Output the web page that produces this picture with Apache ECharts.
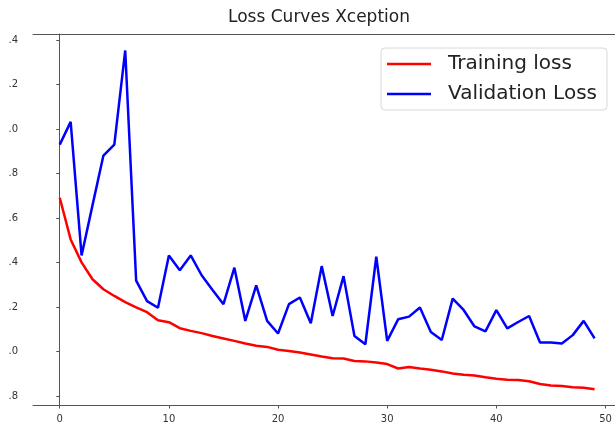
<!DOCTYPE html>
<html>
<head>
<meta charset="utf-8">
<script src="https://cdn.jsdelivr.net/npm/echarts@6/dist/echarts.min.js"></script>
<style>html,body{margin:0;padding:0;background:#fff}#c{width:615px;height:424px}</style>
</head>
<body>
<div id="c"></div>
<script>
const epochs = Array.from({length: 50}, (_, i) => i);
const trainingLoss = [1.691,1.504,1.401,1.325,1.280,1.250,1.222,1.199,1.177,1.141,
  1.132,1.105,1.093,1.083,1.070,1.059,1.048,1.036,1.026,1.021,
  1.008,1.003,0.996,0.987,0.978,0.970,0.969,0.958,0.956,0.951,
  0.944,0.924,0.931,0.924,0.918,0.911,0.902,0.896,0.893,0.885,
  0.878,0.873,0.872,0.867,0.854,0.848,0.845,0.840,0.837,0.831];
const validationLoss = [1.930,2.032,1.432,1.657,1.881,1.930,2.353,1.319,1.227,1.197,
  1.432,1.366,1.432,1.343,1.277,1.213,1.377,1.138,1.298,1.138,
  1.081,1.213,1.243,1.127,1.384,1.160,1.339,1.070,1.033,1.426,
  1.048,1.145,1.157,1.198,1.088,1.052,1.238,1.187,1.113,1.091,
  1.186,1.104,1.133,1.160,1.041,1.041,1.036,1.074,1.138,1.059];
const xTickValues = [0,10,20,30,40,50];
const yTickValues = [0.8,1.0,1.2,1.4,1.6,1.8,2.0,2.2,2.4];
const yTickLabels = [".8",".0",".2",".4",".6",".8",".0",".2",".4"];
const seriesNames = ["Training loss","Validation Loss"];

const chart = echarts.init(document.getElementById('c'));
const FONT = 'DejaVu Sans';
const X_MIN = -2.45, X_MAX = 50.87;
chart.setOption({
  animation: false,
  backgroundColor: '#fff',
  title: {
    text: 'Loss Curves Xception',
    left: 319, top: 9, padding: 0, textAlign: 'center',
    textStyle: {fontFamily: FONT, fontSize: 17, fontWeight: 'normal', color: '#222'}
  },
  grid: {left: 33, right: 0, top: 34, bottom: 18, show: false},
  legend: {
    orient: 'vertical', left: 381, top: 48,
    data: seriesNames.map(n => ({name: n, icon: 'rect'})),
    itemWidth: 44, itemHeight: 2.5, itemGap: 10,
    padding: [6, 10, 6, 6],
    backgroundColor: '#fff', borderColor: '#d8d8d8', borderWidth: 1, borderRadius: 4,
    textStyle: {fontFamily: FONT, fontSize: 20, color: '#222', padding: [0, 0, 0, 12]}
  },
  xAxis: [{
    type: 'value', min: X_MIN, max: X_MAX,
    splitLine: {show: false},
    axisLine: {show: true, lineStyle: {color: '#555'}},
    axisTick: {show: true, customValues: xTickValues, length: 3.5, lineStyle: {color: '#555'}},
    axisLabel: {customValues: xTickValues, margin: 9, fontFamily: FONT, fontSize: 10, color: '#333'}
  }, {
    type: 'value', position: 'top', min: X_MIN, max: X_MAX,
    splitLine: {show: false},
    axisLine: {show: true, lineStyle: {color: '#555'}},
    axisTick: {show: false}, axisLabel: {show: false}
  }],
  yAxis: {
    type: 'value', min: 0.76, max: 2.427,
    splitLine: {show: false},
    axisLine: {show: true, lineStyle: {color: '#555'}},
    axisTick: {show: true, customValues: yTickValues, length: 3.5, lineStyle: {color: '#555'}},
    axisLabel: {
      customValues: yTickValues, margin: 15, fontFamily: FONT, fontSize: 10, color: '#333',
      formatter: v => {
        const k = yTickValues.findIndex(t => Math.abs(t - v) < 1e-6);
        return k >= 0 ? yTickLabels[k] : '';
      }
    }
  },
  series: [
    {name: seriesNames[0], type: 'line', symbol: 'none', data: epochs.map((e, i) => [e, trainingLoss[i]]),
     lineStyle: {color: '#ff0000', width: 2.5}, itemStyle: {color: '#ff0000'}, z: 2},
    {name: seriesNames[1], type: 'line', symbol: 'none', data: epochs.map((e, i) => [e, validationLoss[i]]),
     lineStyle: {color: '#0000ff', width: 2.5}, itemStyle: {color: '#0000ff'}, z: 3}
  ]
});
</script>
</body>
</html>
